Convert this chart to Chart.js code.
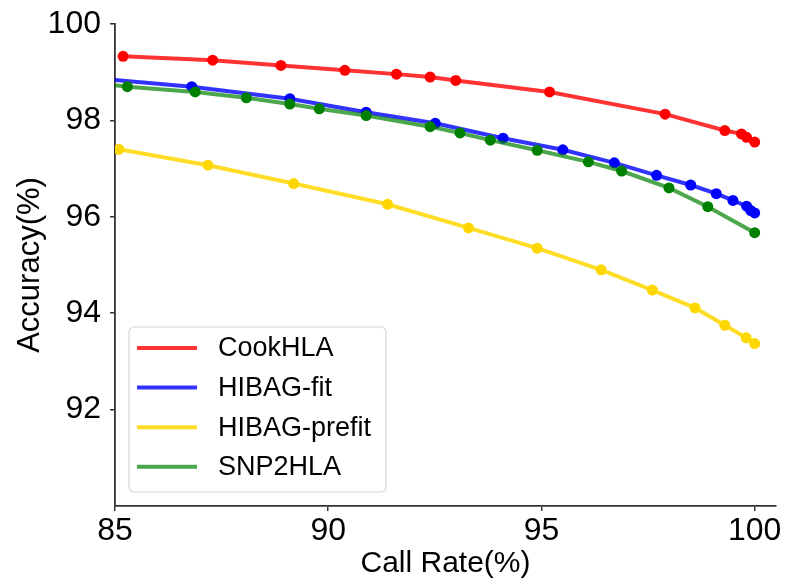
<!DOCTYPE html>
<html>
<head>
<meta charset="utf-8">
<script src="https://cdn.jsdelivr.net/npm/chart.js@4.4.0/dist/chart.umd.min.js"></script>
<style>
  html, body { margin: 0; padding: 0; background: #ffffff; }
  #wrap { width: 785px; height: 582px; }
</style>
</head>
<body>
<div id="wrap"><canvas id="c" width="785" height="582"></canvas></div>
<script>
// ---- data ----
const seriesNames = ['CookHLA', 'HIBAG-fit', 'HIBAG-prefit', 'SNP2HLA'];

const cookX = [85.19, 87.29, 88.89, 90.39, 91.60, 92.39, 92.99, 95.19, 97.90, 99.30, 99.69, 99.81, 100];
const cookY = [99.33, 99.25, 99.14, 99.04, 98.96, 98.90, 98.83, 98.59, 98.13, 97.79, 97.72, 97.65, 97.55];

const fitX = [84.60, 86.80, 89.10, 90.89, 92.51, 94.10, 95.50, 96.71, 97.70, 98.50, 99.10, 99.49, 99.81, 99.91, 100];
const fitY = [98.87, 98.70, 98.45, 98.17, 97.94, 97.63, 97.39, 97.12, 96.86, 96.66, 96.48, 96.34, 96.22, 96.13, 96.08];

const prefitX = [85.09, 87.18, 89.19, 91.39, 93.29, 94.90, 96.40, 97.60, 98.60, 99.30, 99.80, 100];
const prefitY = [97.40, 97.07, 96.69, 96.26, 95.77, 95.35, 94.90, 94.48, 94.11, 93.75, 93.49, 93.37];

const snpX = [84.60, 85.29, 86.88, 88.08, 89.10, 89.79, 90.89, 92.39, 93.09, 93.80, 94.90, 96.10, 96.88, 97.99, 98.90, 100];
const snpY = [98.77, 98.70, 98.59, 98.47, 98.34, 98.24, 98.10, 97.87, 97.74, 97.59, 97.38, 97.14, 96.95, 96.60, 96.21, 95.67];

const xTicks = [85, 90, 95, 100];
const yTicks = [92, 94, 96, 98, 100];

const xTitle = 'Call Rate(%)';
const yTitle = 'Accuracy(%)';

// ---- styling ----
const FONT = "'Liberation Sans', Arial, Helvetica, sans-serif";
const lineColors = ['rgba(255,0,0,0.8)', 'rgba(0,0,255,0.8)', 'rgba(255,215,0,0.85)', 'rgba(0,128,0,0.7)'];
const pointColors = ['#ff0000', '#0000ff', '#ffd700', '#008000'];
const drawOrder = [3, 2, 1, 0];

function toPoints(xs, ys) { return xs.map((x, i) => ({ x: x, y: ys[i] })); }
const allX = [cookX, fitX, prefitX, snpX];
const allY = [cookY, fitY, prefitY, snpY];

const datasets = seriesNames.map((name, i) => ({
  label: name,
  data: toPoints(allX[i], allY[i]),
  borderColor: lineColors[i],
  backgroundColor: pointColors[i],
  pointBackgroundColor: pointColors[i],
  pointBorderColor: pointColors[i],
  pointBorderWidth: 0,
  pointRadius: 5.5,
  pointHoverRadius: 5.5,
  borderWidth: 4,
  tension: 0,
  order: drawOrder[i],
  clip: { left: 0, top: 6, right: 6, bottom: 6 }
}));

const legendBox = {
  id: 'legendBox',
  afterDraw(chart) {
    const ctx = chart.ctx;
    const a = chart.chartArea;
    const x0 = a.left + 14, w = 257, h = 165;
    const y0 = a.bottom - 14 - h;
    ctx.save();
    ctx.beginPath();
    if (ctx.roundRect) { ctx.roundRect(x0, y0, w, h, 5); } else { ctx.rect(x0, y0, w, h); }
    ctx.fillStyle = 'rgba(255,255,255,0.85)';
    ctx.fill();
    ctx.lineWidth = 1.2;
    ctx.strokeStyle = '#d6d6d6';
    ctx.stroke();
    ctx.font = '27px ' + FONT;
    ctx.textBaseline = 'middle';
    ctx.textAlign = 'left';
    chart.data.datasets.forEach((ds, i) => {
      const y = y0 + 21 + i * 39.6;
      ctx.beginPath();
      ctx.moveTo(x0 + 8, y);
      ctx.lineTo(x0 + 68, y);
      ctx.lineWidth = 4;
      ctx.strokeStyle = ds.borderColor;
      ctx.stroke();
      ctx.fillStyle = '#000000';
      ctx.fillText(ds.label, x0 + 89, y + 1);
    });
    ctx.restore();
  }
};

new Chart(document.getElementById('c'), {
  type: 'line',
  data: { datasets: datasets },
  options: {
    responsive: false,
    animation: false,
    events: [],
    layout: { padding: { left: 0, top: 24, right: 9, bottom: 0 } },
    plugins: { legend: { display: false }, tooltip: { enabled: false } },
    scales: {
      x: {
        type: 'linear',
        min: 85,
        max: 100.5,
        afterBuildTicks: s => { s.ticks = xTicks.map(v => ({ value: v })); },
        afterFit: s => { s.height = 76; s.paddingLeft = 0; s.paddingRight = 0; },
        ticks: { font: { family: FONT, size: 32 }, color: '#000', padding: 1, maxRotation: 0, autoSkip: false },
        grid: { display: true, drawOnChartArea: false, drawTicks: true, tickLength: 5, color: '#333', lineWidth: 1.5 },
        border: { display: true, color: '#333', width: 1.8 },
        title: { display: true, text: xTitle, color: '#000', font: { family: FONT, size: 30 }, padding: { top: 0, bottom: 0 } }
      },
      y: {
        type: 'linear',
        min: 90,
        max: 100,
        afterBuildTicks: s => { s.ticks = yTicks.map(v => ({ value: v })); },
        afterFit: s => { s.width = 115; s.paddingTop = 0; s.paddingBottom = 0; },
        ticks: { font: { family: FONT, size: 32 }, color: '#000', padding: 9 },
        grid: { display: true, drawOnChartArea: false, drawTicks: true, tickLength: 5, color: '#333', lineWidth: 1.5 },
        border: { display: true, color: '#333', width: 1.8 },
        title: { display: true, text: yTitle, color: '#000', font: { family: FONT, size: 31 }, padding: { top: 12, bottom: 0 } }
      }
    }
  },
  plugins: [legendBox]
});
</script>
</body>
</html>
